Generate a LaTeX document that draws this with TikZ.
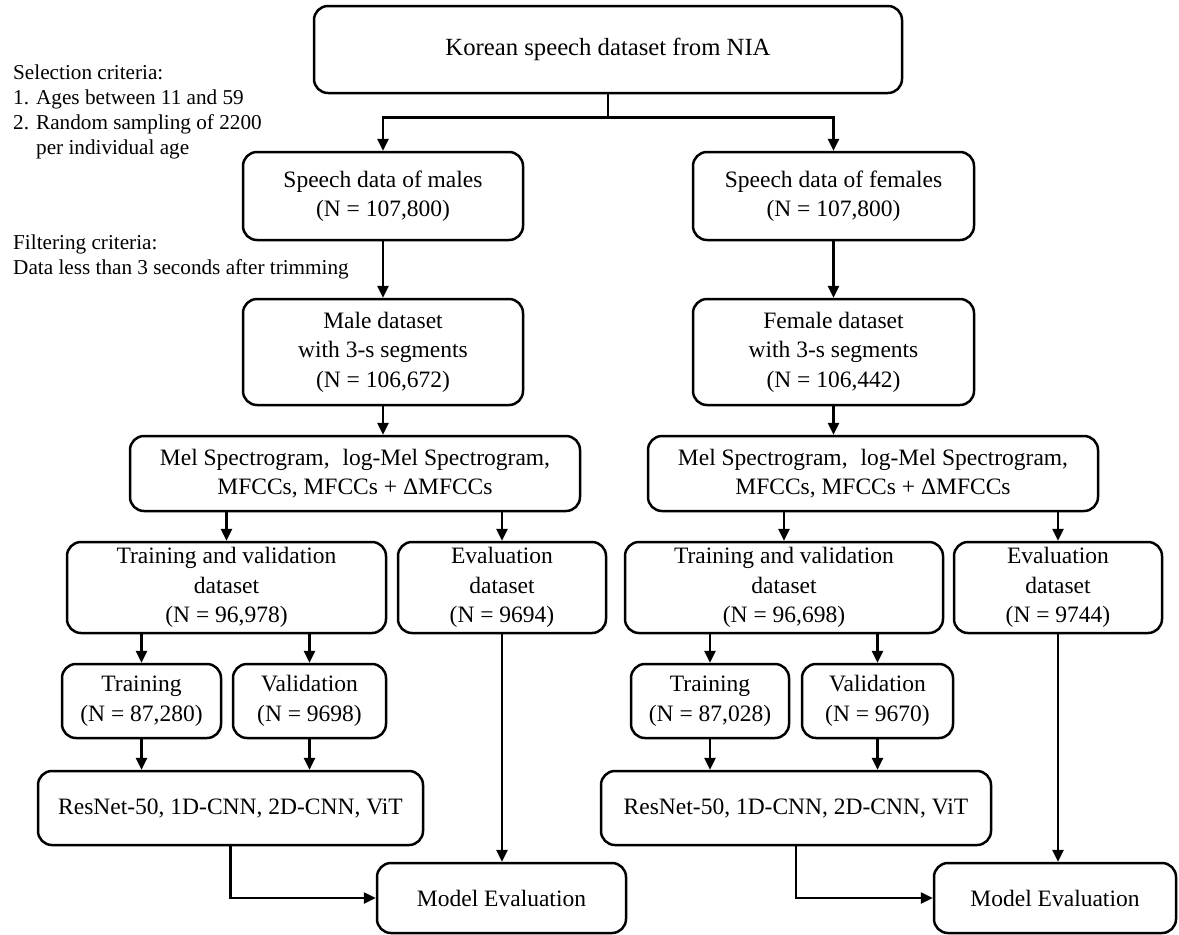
\documentclass[tikz,border=0pt]{standalone}
\usepackage{fontspec}
\setmainfont{Liberation Serif}
\usetikzlibrary{arrows.meta,calc}
\newcommand\boxfont{\fontsize{23.5}{29.5}\selectfont}
\newcommand\topfont{\fontsize{24.7}{29.5}\selectfont}
\newcommand\sidefont{\fontsize{21.2}{25}\selectfont}
\begin{document}
\begin{tikzpicture}[x=1pt,y=-1pt,
  box/.style={draw, line width=2.5pt, rounded corners=14pt, align=center, inner sep=0pt, font=\boxfont},
  arr/.style={line width=2.5pt, -{Triangle[length=12pt,width=11pt]}},
  ln/.style={line width=2.5pt},
  side/.style={anchor=base west, align=left, inner sep=0pt, font=\sidefont}]
\useasboundingbox (0,0) rectangle (1179,935);

% side notes (base anchor = baseline of the last line)
\node[side] (sel) at (13,154) {Selection criteria:\\1. Ages between 11 and 59\\2. Random sampling of 2200\\\phantom{2. }per individual age};
\node[side] (filt) at (13,274) {Filtering criteria:\\Data less than 3 seconds after trimming};

% boxes
\node[box, font=\topfont, minimum width=588pt, minimum height=87pt] (top) at (608,49.5) {Korean speech dataset from NIA};

\node[box, minimum width=280pt, minimum height=88pt] (males) at (383,196) {Speech data of males\\(N = 107,800)};
\node[box, minimum width=281pt, minimum height=88pt] (females) at (833.5,196) {Speech data of females\\(N = 107,800)};

\node[box, minimum width=280pt, minimum height=106pt] (mds) at (383,352) {Male dataset\\with 3-s segments\\(N = 106,672)};
\node[box, minimum width=281pt, minimum height=106pt] (fds) at (833.5,352) {Female dataset\\with 3-s segments\\(N = 106,442)};

\node[box, minimum width=450pt, minimum height=75pt] (mmel) at (355,473.5) {Mel Spectrogram,\hspace{0.3em} log-Mel Spectrogram,\\MFCCs, MFCCs + ΔMFCCs};
\node[box, minimum width=450pt, minimum height=75pt] (fmel) at (873,473.5) {Mel Spectrogram,\hspace{0.3em} log-Mel Spectrogram,\\MFCCs, MFCCs + ΔMFCCs};

\node[box, minimum width=319pt, minimum height=91pt] (mtv) at (226.5,587.5) {Training and validation\\dataset\\(N = 96,978)};
\node[box, minimum width=208pt, minimum height=91pt] (mev) at (502,587.5) {Evaluation\\dataset\\(N = 9694)};
\node[box, minimum width=318pt, minimum height=91pt] (ftv) at (784,587.5) {Training and validation\\dataset\\(N = 96,698)};
\node[box, minimum width=208pt, minimum height=91pt] (fev) at (1058,587.5) {Evaluation\\dataset\\(N = 9744)};

\node[box, minimum width=159pt, minimum height=74pt] (mtr) at (141.5,701) {Training\\(N = 87,280)};
\node[box, minimum width=153pt, minimum height=74pt] (mva) at (309.5,701) {Validation\\(N = 9698)};
\node[box, minimum width=158pt, minimum height=74pt] (ftr) at (710,701) {Training\\(N = 87,028)};
\node[box, minimum width=151pt, minimum height=74pt] (fva) at (877.5,701) {Validation\\(N = 9670)};

\node[box, minimum width=385pt, minimum height=74pt] (mres) at (230.5,808) {ResNet-50, 1D-CNN, 2D-CNN, ViT};
\node[box, minimum width=390pt, minimum height=74pt] (fres) at (796,808) {ResNet-50, 1D-CNN, 2D-CNN, ViT};

\node[box, minimum width=249pt, minimum height=70pt] (mme) at (501.5,898) {Model Evaluation};
\node[box, minimum width=242pt, minimum height=70pt] (fme) at (1055,898) {Model Evaluation};

% connectors
\coordinate (split) at ([yshift=-23pt]top.south);
\draw[ln] (top.south) -- (split);
\draw[arr] (split) -| (males.north);
\draw[arr] (split) -| (females.north);

\draw[arr] (males.south) -- (males.south |- mds.north);
\draw[arr] (females.south) -- (females.south |- fds.north);

\draw[arr] (mds.south) -- (mds.south |- mmel.north);
\draw[arr] (fds.south) -- (fds.south |- fmel.north);

\draw[arr] (mmel.south -| mtv) -- (mtv.north);
\draw[arr] (mmel.south -| mev) -- (mev.north);
\draw[arr] (fmel.south -| ftv) -- (ftv.north);
\draw[arr] (fmel.south -| fev) -- (fev.north);

\draw[arr] (mtv.south -| mtr) -- (mtr.north);
\draw[arr] (mtv.south -| mva) -- (mva.north);
\draw[arr] (ftv.south -| ftr) -- (ftr.north);
\draw[arr] (ftv.south -| fva) -- (fva.north);

\draw[arr] (mtr.south) -- (mtr.south |- mres.north);
\draw[arr] (mva.south) -- (mva.south |- mres.north);
\draw[arr] (ftr.south) -- (ftr.south |- fres.north);
\draw[arr] (fva.south) -- (fva.south |- fres.north);

\draw[arr] (mev.south) -- (mev.south |- mme.north);
\draw[arr] (fev.south) -- (fev.south |- fme.north);

\draw[arr] (mres.south) |- (mme.west);
\draw[arr] (fres.south) |- (fme.west);
\end{tikzpicture}
\end{document}
